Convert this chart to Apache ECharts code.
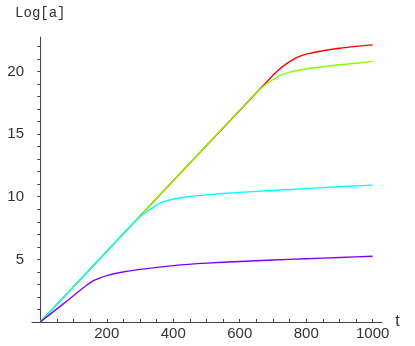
<!DOCTYPE html>
<html>
<head>
<meta charset="utf-8">
<script src="https://cdn.jsdelivr.net/npm/echarts@6/dist/echarts.min.js"></script>
<style>
  html, body { margin: 0; padding: 0; background: #fff; }
  #chart { width: 415px; height: 346px; }
</style>
</head>
<body>
<div id="chart"></div>
<script>
// tick labels
var xLabels = [200, 400, 600, 800, 1000]
var yLabels = [5, 10, 15, 20]

// curves (t, Log[a])
var tRed = [0, 350, 700, 720, 740, 760, 780, 800, 850, 900, 950, 1000]
var yRed = [0, 9.87, 19.7, 20.2, 20.6, 20.95, 21.2, 21.38, 21.65, 21.85, 22.0, 22.12]

var tGreen = [0, 320, 640, 660, 680, 700, 720, 750, 800, 850, 900, 950, 1000]
var yGreen = [0, 9.02, 18.05, 18.55, 19.0, 19.35, 19.65, 19.95, 20.2, 20.38, 20.53, 20.66, 20.8]

var tCyan = [0, 140, 280, 300, 320, 340, 360, 380, 400, 450, 500, 600, 700, 800, 900, 1000]
var yCyan = [0, 3.95, 7.9, 8.4, 8.8, 9.15, 9.48, 9.68, 9.82, 10.02, 10.15, 10.35, 10.5, 10.65, 10.8, 10.93]

var tPurple = [0, 70, 140, 160, 180, 200, 240, 300, 400, 500, 600, 700, 800, 900, 1000]
var yPurple = [0, 1.47, 2.95, 3.3, 3.52, 3.7, 3.95, 4.2, 4.5, 4.7, 4.83, 4.95, 5.05, 5.15, 5.25]

function pairs(ts, ys) {
  return ts.map(function (t, i) { return [t, ys[i]] })
}

var xTicks = []
for (var v = 50; v <= 1000; v += 50) xTicks.push(v)
var yTicks = []
for (var w = 1; w <= 22; w++) yTicks.push(w)

var axisColor = '#444'
var labelFont = {
  color: '#333',
  fontFamily: '"Liberation Sans", sans-serif',
  fontSize: 15
}

function line(name, color, ts, ys) {
  return {
    name: name,
    type: 'line',
    data: pairs(ts, ys),
    showSymbol: false,
    smooth: 0.2,
    lineStyle: { color: color, width: 1.4 },
    animation: false
  }
}

var chart = echarts.init(document.getElementById('chart'))
chart.setOption({
  backgroundColor: '#fff',
  grid: { left: 32, top: 37, width: 350, height: 285, outerBoundsMode: 'none' },
  xAxis: {
    type: 'value',
    min: -25,
    max: 1028,
    name: 't',
    nameGap: 9,
    nameTextStyle: Object.assign({}, labelFont, { fontSize: 16, padding: [6, 0, 0, 0] }),
    axisLine: { onZero: true, lineStyle: { color: axisColor, width: 1 } },
    axisTick: { inside: true, length: 3, customValues: xTicks, lineStyle: { color: axisColor } },
    axisLabel: Object.assign({
      customValues: xLabels,
      margin: 4,
      formatter: function (val) { return String(val) }
    }, labelFont),
    splitLine: { show: false }
  },
  yAxis: {
    type: 'value',
    min: 0,
    max: 22.75,
    name: 'Log[a]',
    nameGap: 17,
    nameTextStyle: {
      color: '#333',
      fontFamily: '"Liberation Mono", monospace',
      fontSize: 14
    },
    axisLine: { onZero: true, lineStyle: { color: axisColor, width: 1 } },
    axisTick: { length: 3, customValues: yTicks, lineStyle: { color: axisColor } },
    axisLabel: Object.assign({
      customValues: yLabels,
      margin: 8,
      formatter: function (val) { return String(val) }
    }, labelFont),
    splitLine: { show: false }
  },
  series: [
    line('red', '#ff0000', tRed, yRed),
    line('green', '#80ff00', tGreen, yGreen),
    line('cyan', '#00ffff', tCyan, yCyan),
    line('purple', '#8000ff', tPurple, yPurple)
  ]
})
</script>
</body>
</html>
